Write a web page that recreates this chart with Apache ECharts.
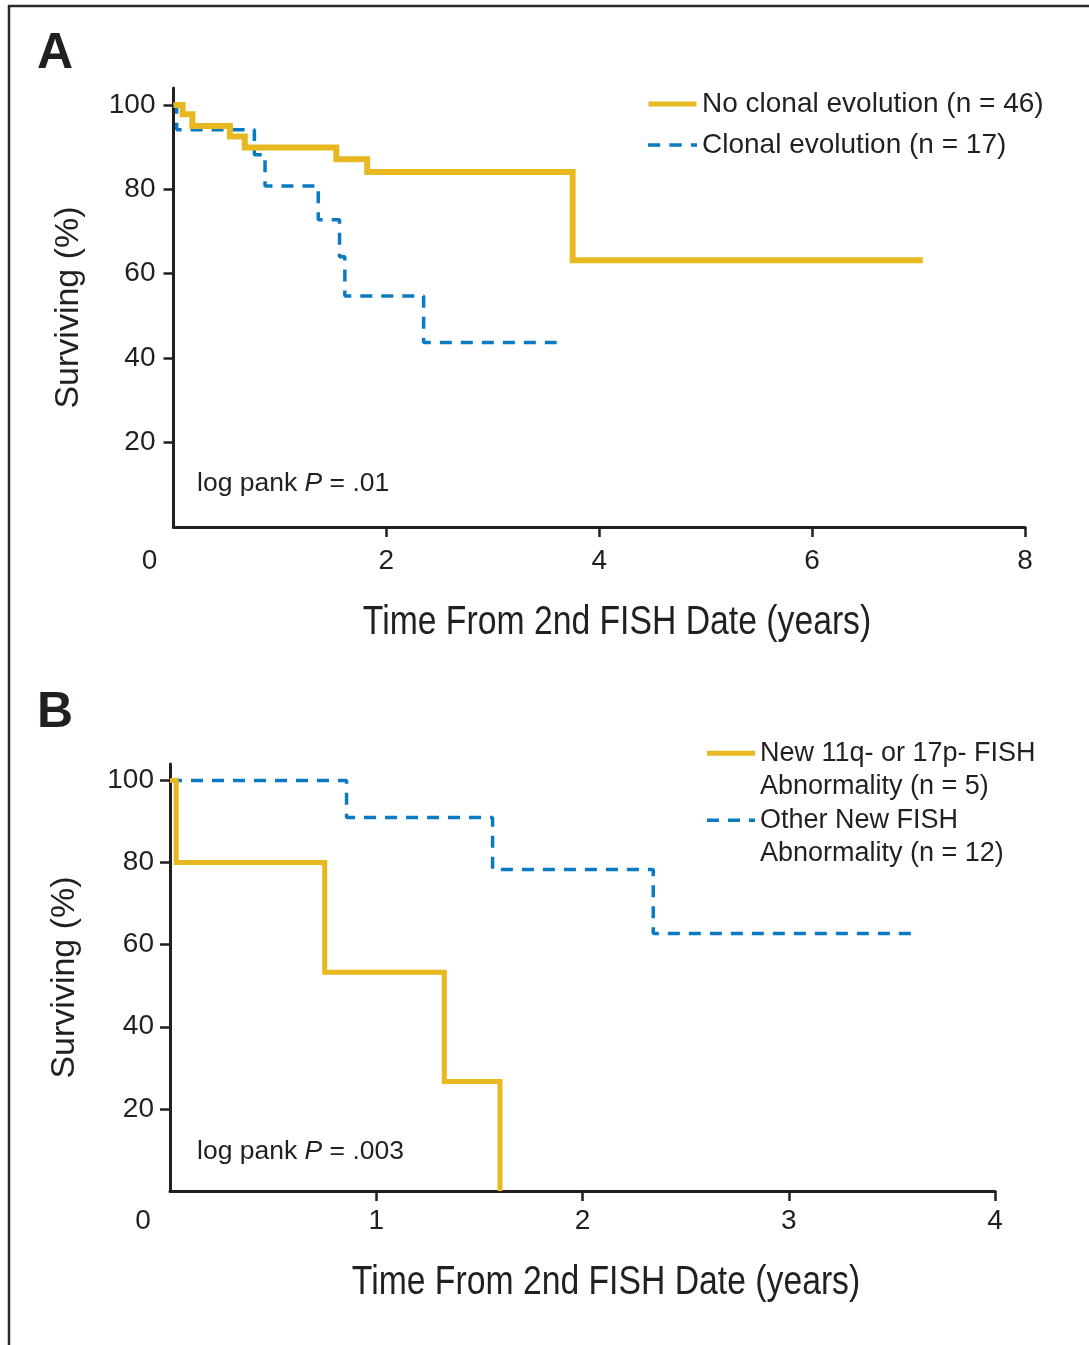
<!DOCTYPE html>
<html>
<head>
<meta charset="utf-8">
<script src="https://cdn.jsdelivr.net/npm/echarts@6/dist/echarts.min.js"></script>
<style>
html,body{margin:0;padding:0;background:#fff;}
#chart{width:1089px;height:1345px;}
</style>
</head>
<body>
<div id="chart"></div>
<script>
// ---- Data (Kaplan–Meier step points: time in years, survival %) ----
const xTicksA = [0, 2, 4, 6, 8];
const xTicksB = [0, 1, 2, 3, 4];
const yTicks = [20, 40, 60, 80, 100];

const noClonalTime = [0, 0.086, 0.177, 0.53, 0.67, 1.53, 1.82, 3.75, 7.04];
const noClonalSurv = [100, 97.8, 95.0, 92.5, 89.9, 87.1, 84.1, 63.2, 63.2];

const clonalTime = [0, 0.03, 0.76, 0.86, 1.36, 1.56, 1.61, 2.35, 3.6];
const clonalSurv = [100, 94.1, 88.2, 80.8, 72.8, 64.0, 54.7, 43.7, 43.7];

const new11q17pTime = [0, 0.03, 0.75, 1.33, 1.6];
const new11q17pSurv = [100, 80, 53.3, 26.7, 0];

const otherFishTime = [0, 0.856, 1.564, 2.343, 3.6];
const otherFishSurv = [100, 91.0, 78.3, 62.7, 62.7];

const nameA1 = 'No clonal evolution (n = 46)';
const nameA2 = 'Clonal evolution (n = 17)';
const nameB1 = 'New 11q- or 17p- FISH\nAbnormality (n = 5)';
const nameB2 = 'Other New FISH\nAbnormality (n = 12)';
const xTitle = 'Time From 2nd FISH Date (years)';
const pTextA = '.01';
const pTextB = '.003';

const YELLOW = '#E8B820';
const BLUE = '#0A7BC2';
const INK = '#231f20';
const FONT = "'Liberation Sans', Arial, Helvetica, sans-serif";

const SOLID_ICON = 'path://M0,0H48V5H0Z';
const DASH_ICON = 'path://M0,0.75H12V4.25H0Z M21,0.75H33V4.25H21Z M42,0.75H48V4.25H42Z';

const zip = (t, s) => t.map((v, i) => [v, s[i]]);

function xAxisCfg(gridIndex, max, ticks, zeroPad, margin) {
  return {
    type: 'value', gridIndex, min: 0, max,
    splitLine: { show: false },
    axisLine: { lineStyle: { color: INK, width: 3 } },
    axisTick: { customValues: ticks.slice(1), length: 10, lineStyle: { color: INK, width: 2.5 } },
    axisLabel: {
      customValues: ticks, margin, fontFamily: FONT, fontSize: 28, color: INK,
      formatter: v => v === 0 ? '{z|0}' : String(v),
      rich: { z: { fontFamily: FONT, fontSize: 28, color: INK, padding: [0, zeroPad, 0, 0] } }
    }
  };
}
function yAxisCfg(gridIndex, nameGap, margin) {
  return {
    type: 'value', gridIndex, min: 0, max: 104,
    name: 'Surviving (%)', nameLocation: 'middle', nameGap,
    nameTextStyle: { fontFamily: FONT, fontSize: 34, color: INK },
    splitLine: { show: false },
    axisLine: { show: true, lineStyle: { color: INK, width: 3 } },
    axisTick: { show: true, customValues: yTicks, length: 10, lineStyle: { color: INK, width: 2.5 } },
    axisLabel: { customValues: yTicks, margin, fontFamily: FONT, fontSize: 28, color: INK }
  };
}
function pText(x, y, val) {
  return {
    type: 'text', x, y,
    style: {
      text: '{n|log pank }{i|P}{n| = ' + val + '}',
      rich: {
        n: { fontFamily: FONT, fontSize: 26.5, fill: INK },
        i: { fontFamily: FONT, fontSize: 26.5, fontStyle: 'italic', fill: INK }
      },
      verticalAlign: 'middle'
    }
  };
}
function titleText(x, y) {
  return {
    type: 'text', x, y, scaleX: 0.843,
    style: { text: xTitle, fontFamily: FONT, fontSize: 40, fill: INK, align: 'center', verticalAlign: 'middle' }
  };
}
function legendB(name, icon, top) {
  return {
    data: [{ name, icon }], orient: 'vertical', left: 707, top, padding: 0,
    itemWidth: 48, itemHeight: 5,
    formatter: n => ' \n' + n,
    textStyle: { fontFamily: FONT, fontSize: 27, color: INK, lineHeight: 33.5 }
  };
}

const chart = echarts.init(document.getElementById('chart'), null, { renderer: 'canvas' });
chart.setOption({
  backgroundColor: '#ffffff',
  animation: false,
  grid: [
    { left: 173.5, right: 64, top: 88, bottom: 818 },
    { left: 170, right: 94, top: 764, bottom: 154 }
  ],
  xAxis: [xAxisCfg(0, 8, xTicksA, 48, 20), xAxisCfg(1, 4, xTicksB, 54, 16)],
  yAxis: [yAxisCfg(0, 88, 18), yAxisCfg(1, 88, 16)],
  legend: [
    {
      data: [{ name: nameA1, icon: SOLID_ICON }, { name: nameA2, icon: DASH_ICON }],
      orient: 'vertical', left: 648, top: 89, padding: 0,
      itemWidth: 49, itemHeight: 5, itemGap: 11,
      textStyle: { fontFamily: FONT, fontSize: 28, color: INK, lineHeight: 30 }
    },
    legendB(nameB1, SOLID_ICON, 703),
    legendB(nameB2, DASH_ICON, 770)
  ],
  series: [
    { name: nameA1, type: 'line', xAxisIndex: 0, yAxisIndex: 0, step: 'end', symbol: 'none',
      data: zip(noClonalTime, noClonalSurv), z: 3,
      lineStyle: { color: YELLOW, width: 6, cap: 'butt', join: 'miter' }, itemStyle: { color: YELLOW } },
    { name: nameA2, type: 'line', xAxisIndex: 0, yAxisIndex: 0, step: 'end', symbol: 'none',
      data: zip(clonalTime, clonalSurv), z: 2,
      lineStyle: { color: BLUE, width: 3.5, type: [12, 9], cap: 'butt' }, itemStyle: { color: BLUE } },
    { name: nameB1, type: 'line', xAxisIndex: 1, yAxisIndex: 1, step: 'end', symbol: 'none',
      data: zip(new11q17pTime, new11q17pSurv), z: 3,
      lineStyle: { color: YELLOW, width: 5, cap: 'butt', join: 'miter' }, itemStyle: { color: YELLOW } },
    { name: nameB2, type: 'line', xAxisIndex: 1, yAxisIndex: 1, step: 'end', symbol: 'none',
      data: zip(otherFishTime, otherFishSurv), z: 2,
      lineStyle: { color: BLUE, width: 3.5, type: [12, 9], cap: 'butt' }, itemStyle: { color: BLUE } }
  ],
  graphic: [
    { type: 'line', shape: { x1: 8, y1: 6, x2: 1089, y2: 6 }, style: { stroke: '#2b2b2b', lineWidth: 2.5 } },
    { type: 'line', shape: { x1: 9, y1: 5, x2: 9, y2: 1345 }, style: { stroke: '#2b2b2b', lineWidth: 2.5 } },
    { type: 'text', x: 37, y: 54, style: { text: 'A', fontFamily: FONT, fontWeight: 'bold', fontSize: 50, fill: INK, verticalAlign: 'middle' } },
    { type: 'text', x: 37, y: 713, style: { text: 'B', fontFamily: FONT, fontWeight: 'bold', fontSize: 50, fill: INK, verticalAlign: 'middle' } },
    pText(197, 484, pTextA),
    pText(197, 1152, pTextB),
    titleText(617, 623),
    titleText(606, 1283)
  ]
});
</script>
</body>
</html>
